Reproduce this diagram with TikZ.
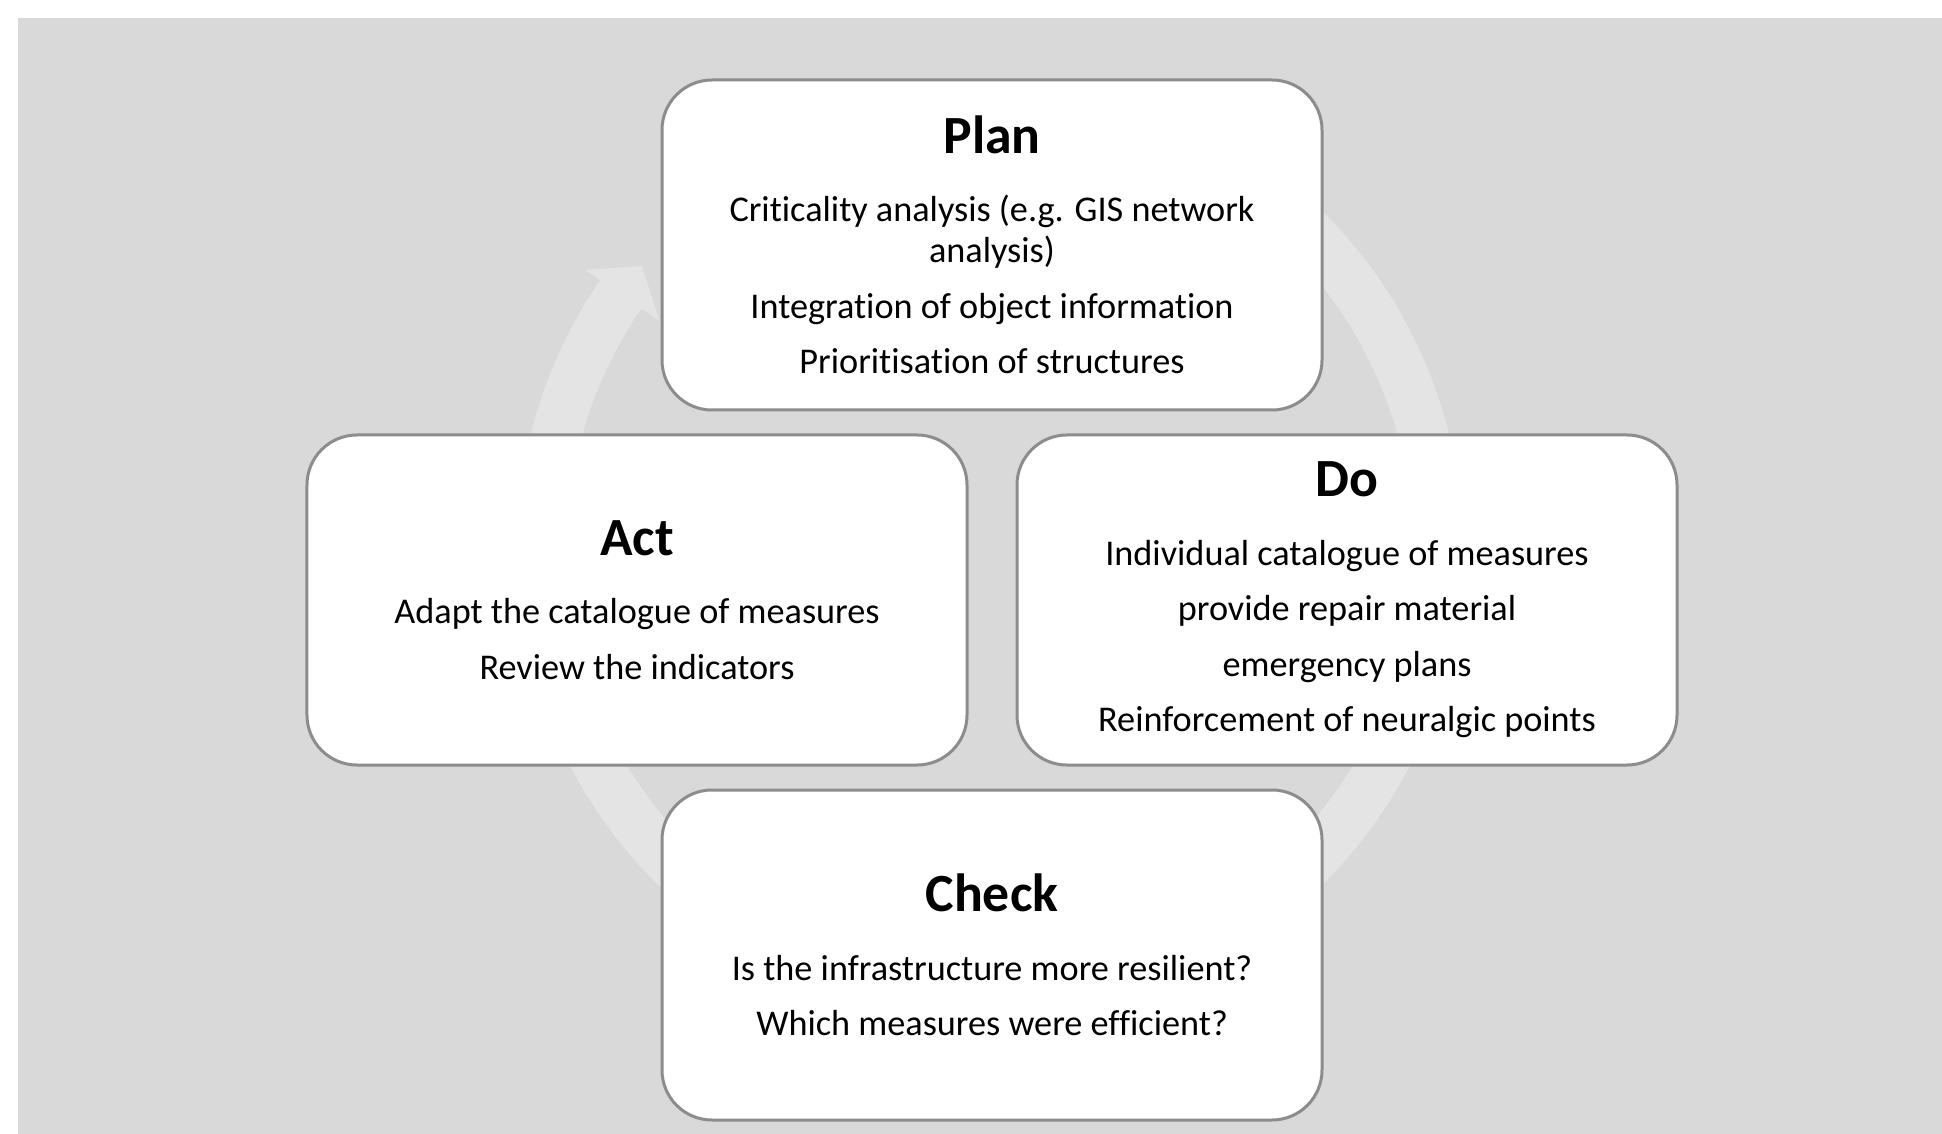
\documentclass[tikz,border=0pt]{standalone}
\usepackage{fontspec}
\setmainfont{Carlito}[Ligatures=NoCommon]
\usetikzlibrary{positioning}

\definecolor{bggray}{HTML}{D9D9D9}
\definecolor{cyclegray}{HTML}{E4E4E4}
\definecolor{boxgray}{HTML}{8C8C8C}
\newcommand{\stagetitle}[1]{{\fontsize{21.5}{24}\selectfont\bfseries #1}\\[11pt]}

\begin{document}
\begin{tikzpicture}[x=0.4pt,y=0.4pt,on grid,
    stage/.style={draw=boxgray, line width=1.2pt, fill=white, rounded corners=20pt,
      minimum width=264pt, minimum height=132pt, inner sep=0pt, align=center,
      font=\fontsize{14.5}{16.4}\selectfont},
    ]
    \useasboundingbox (0,0) rectangle (1942,1134);
    % Background and cycle arrow
    \fill [bggray] (18,0) rectangle (1942,1116);
    \begin{scope}[shift={(990,586)}]
      \fill [cyclegray] (60:473) arc [start angle=60, end angle=-214.5, radius=473]
        -- (145.5:491) -- (141:448) -- (145.5:401)
        -- (145.5:423) arc [start angle=-214.5, end angle=60, radius=423] -- cycle;
    \end{scope}

    % Place nodes
    \node [stage] (plan) at (992,889) {\stagetitle{Plan}Criticality analysis (e.g. GIS network\\analysis)\\[5.8pt]
      Integration of object information\\[5.8pt]Prioritisation of structures};
    \node [stage, below left=142pt and 142pt of plan] (act) {\stagetitle{Act}Adapt the catalogue of measures\\[5.8pt]
      Review the indicators};
    \node [stage, below right=142pt and 142pt of plan] (do) {\stagetitle{Do}Individual catalogue of measures\\[5.8pt]
      provide repair material\\[5.8pt]emergency plans\\[5.8pt]Reinforcement of neuralgic points};
    \node [stage, below=284pt of plan] (check) {\stagetitle{Check}Is the infrastructure more resilient?\\[5.8pt]
      Which measures were efficient?};
\end{tikzpicture}
\end{document}
